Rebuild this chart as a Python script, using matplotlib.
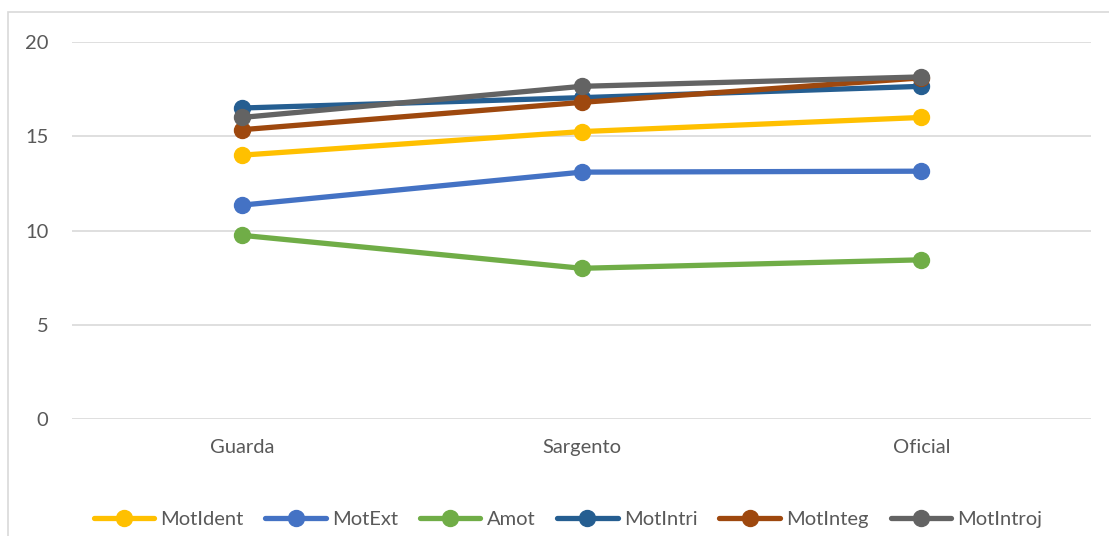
import matplotlib
matplotlib.use('Agg')
import matplotlib.pyplot as plt
from matplotlib.patches import Rectangle

plt.rcParams['font.family'] = ['Lato', 'DejaVu Sans']

# ---- data ----
categories = ['Guarda', 'Sargento', 'Oficial']
mot_ident = [14.0, 15.25, 16.0]
mot_ext = [11.35, 13.1, 13.15]
amot = [9.75, 8.0, 8.45]
mot_intri = [16.5, 17.05, 17.65]
mot_integ = [15.35, 16.8, 18.1]
mot_introj = [16.0, 17.65, 18.15]

series = [
    ('MotIdent', mot_ident, '#FFC000'),
    ('MotExt', mot_ext, '#4472C4'),
    ('Amot', amot, '#70AD47'),
    ('MotIntri', mot_intri, '#255E91'),
    ('MotInteg', mot_integ, '#9E480E'),
    ('MotIntroj', mot_introj, '#636363'),
]

fig = plt.figure(figsize=(11.09, 5.36), dpi=100)
ax = fig.add_axes([0.065, 0.218, 0.919, 0.7036])

x = [i + 0.5 for i in range(len(categories))]
for name, vals, col in series:
    ax.plot(x, vals, color=col, lw=3.8, marker='o', ms=11.5, label=name,
            solid_capstyle='round')

ax.set_xlim(0, 3)
ax.set_ylim(0, 20)
ax.set_yticks([0, 5, 10, 15, 20])
ax.set_xticks(x)
ax.set_xticklabels(categories)
ax.grid(axis='y', color='#d9d9d9', lw=1.2)
ax.set_axisbelow(True)
for s in ax.spines.values():
    s.set_visible(False)
ax.tick_params(length=0, labelsize=14.5, labelcolor='#595959')
ax.tick_params(axis='y', pad=17)
ax.tick_params(axis='x', pad=14)

leg = fig.legend(loc='center', bbox_to_anchor=(0.512, 0.03), ncol=6,
                 frameon=False, fontsize=14.5, handlelength=3.0,
                 handletextpad=0.3, columnspacing=1.1)
for t in leg.get_texts():
    t.set_color('#595959')

# chart area border
fig.patches.append(Rectangle((8 / 1109, -0.2), 1.2, 1 - 12 / 536 + 0.2,
                             transform=fig.transFigure, fill=False,
                             edgecolor='#d9d9d9', lw=1.2))

fig.savefig('out.png', dpi=100, facecolor='white')
